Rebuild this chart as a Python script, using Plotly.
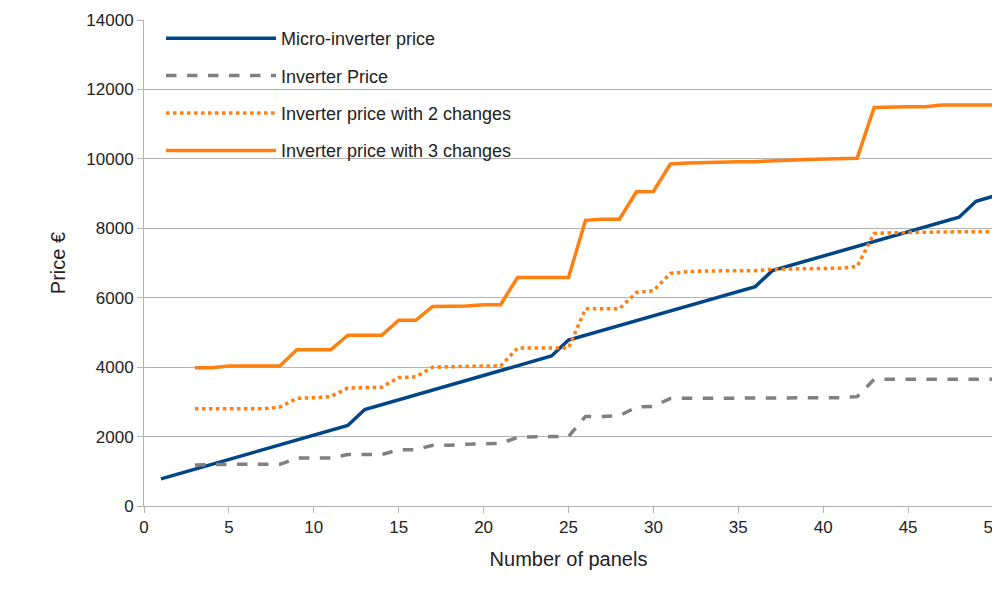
import plotly.graph_objects as go

panels_micro = list(range(1, 51))
micro_price = [780, 920, 1060, 1200, 1340, 1480, 1620, 1760, 1900, 2040,
               2180, 2320, 2780, 2920, 3060, 3200, 3340, 3480, 3620, 3760,
               3900, 4040, 4180, 4320, 4780, 4920, 5060, 5200, 5340, 5480,
               5620, 5760, 5900, 6040, 6180, 6320, 6780, 6920, 7060, 7200,
               7340, 7480, 7620, 7760, 7900, 8040, 8180, 8320, 8780, 8920]

panels = list(range(3, 51))
inverter_price = [1180, 1200, 1200, 1200, 1200, 1200, 1380, 1380, 1380, 1480,
                  1480, 1480, 1620, 1620, 1750, 1750, 1780, 1800, 1800, 1980,
                  2000, 2000, 2000, 2580, 2580, 2600, 2850, 2870, 3100, 3100,
                  3100, 3100, 3100, 3100, 3100, 3100, 3100, 3100, 3120, 3150,
                  3650, 3650, 3650, 3650, 3650, 3650, 3650, 3650]
inverter_2 = [2800, 2800, 2800, 2800, 2800, 2850, 3100, 3120, 3150, 3400,
              3420, 3420, 3700, 3720, 4000, 4020, 4020, 4030, 4030, 4550,
              4550, 4550, 4550, 5680, 5680, 5680, 6150, 6200, 6700, 6750,
              6770, 6780, 6780, 6780, 6820, 6830, 6840, 6850, 6850, 6900,
              7850, 7870, 7880, 7900, 7900, 7900, 7900, 7900]
inverter_3 = [3980, 3980, 4030, 4030, 4030, 4030, 4500, 4500, 4500, 4920,
              4920, 4920, 5350, 5350, 5750, 5750, 5760, 5800, 5800, 6580,
              6580, 6580, 6580, 8230, 8260, 8260, 9050, 9060, 9850, 9880,
              9900, 9910, 9920, 9920, 9950, 9960, 9980, 10000, 10020, 10020,
              11480, 11500, 11500, 11500, 11550, 11550, 11550, 11550]

fig = go.Figure()
fig.add_trace(go.Scatter(x=panels_micro, y=micro_price, mode="lines", name="Micro-inverter price",
                         legendgroup="a", line=dict(color="#004586", width=3.5)))
fig.add_trace(go.Scatter(x=panels, y=inverter_price, mode="lines", name="Inverter Price",
                         legendgroup="b", line=dict(color="#808080", width=3.5, dash="dash")))
fig.add_trace(go.Scatter(x=panels, y=inverter_2, mode="lines", name="Inverter price with 2 changes",
                         legendgroup="c", line=dict(color="#ff800e", width=3.5, dash="dot")))
fig.add_trace(go.Scatter(x=panels, y=inverter_3, mode="lines", name="Inverter price with 3 changes",
                         legendgroup="d", line=dict(color="#ff800e", width=3.5)))

fig.update_layout(
    width=1000, height=594,
    paper_bgcolor="white", plot_bgcolor="white",
    margin=dict(l=136, r=15, t=12, b=96),
    font=dict(family="Liberation Sans", size=17, color="#222"),
    legend=dict(x=0.02, y=1.0, xanchor="left", yanchor="top", bgcolor="rgba(0,0,0,0)",
                font=dict(size=18), traceorder="grouped", tracegroupgap=11, itemwidth=110),
    xaxis=dict(title=dict(text="Number of panels", font=dict(size=20)), range=[0, 50], dtick=5,
               showgrid=False, showline=True, linecolor="#b3b3b3", ticks="outside",
               ticklen=6, tickcolor="#b3b3b3", zeroline=False, automargin=False),
    yaxis=dict(title=dict(text="Price €", font=dict(size=20)), range=[0, 14000], dtick=2000,
               tickformat="d", gridcolor="#b3b3b3", showline=True, linecolor="#b3b3b3",
               ticks="outside", ticklen=6, tickcolor="#b3b3b3", zeroline=False, automargin=False),
)
fig.write_html("out.html")
